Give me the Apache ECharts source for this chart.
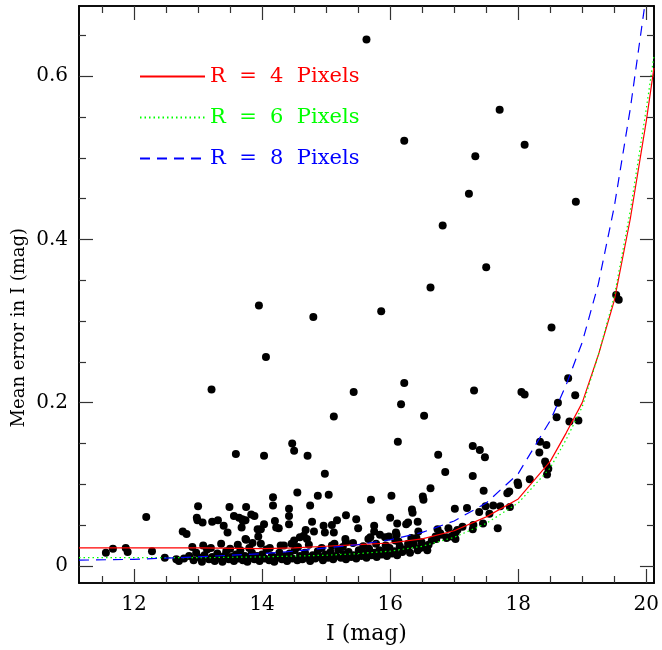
<!DOCTYPE html>
<html>
<head>
<meta charset="utf-8">
<script src="https://cdn.jsdelivr.net/npm/echarts@6/dist/echarts.min.js"></script>
<style>
  html, body { margin: 0; padding: 0; background: #fff; }
  #chart { width: 662px; height: 650px; }
</style>
</head>
<body>
<div id="chart"></div>
<script>
// Axis ranges and ticks
const xRange = [11.14, 20.12]
const yRange = [-0.021, 0.686]
const xMajor = [12, 14, 16, 18, 20]
const xMinor = [11.5, 12.5, 13, 13.5, 14.5, 15, 15.5, 16.5, 17, 17.5, 18.5, 19, 19.5]
const yMajor = [0, 0.2, 0.4, 0.6]
const yMinor = [0.05, 0.1, 0.15, 0.25, 0.3, 0.35, 0.45, 0.5, 0.55, 0.65]

// Model error curves for the three apertures
const curveMag = [11.14, 12, 13, 14, 14.5, 15, 15.5, 16, 16.5, 17, 17.5, 18, 18.5, 18.75, 19, 19.25, 19.5, 19.75, 20, 20.12]
const errR4 = [0.022, 0.022, 0.022, 0.021, 0.022, 0.024, 0.026, 0.028, 0.033, 0.043, 0.060, 0.082, 0.128, 0.163, 0.200, 0.258, 0.325, 0.425, 0.545, 0.610]
const errR6 = [0.010, 0.010, 0.010, 0.011, 0.012, 0.013, 0.015, 0.018, 0.024, 0.035, 0.052, 0.077, 0.120, 0.155, 0.195, 0.258, 0.330, 0.435, 0.560, 0.625]
const errR8 = [0.007, 0.008, 0.011, 0.015, 0.018, 0.022, 0.026, 0.032, 0.041, 0.055, 0.077, 0.113, 0.178, 0.222, 0.274, 0.345, 0.440, 0.560, 0.700, 0.780]

// Stars: I magnitude and mean error
const starMag = [
  15.63, 17.71, 16.22, 18.10, 17.33, 17.23, 18.90, 16.82, 17.50, 16.63,
  13.95, 15.86, 14.80, 18.52, 14.06, 18.78, 16.22, 13.21, 17.31, 15.43,
  18.05, 18.10, 18.89, 18.62, 16.17, 15.12, 16.53, 18.60, 18.94, 18.80,
  19.53, 19.57, 18.34, 18.44, 16.12, 14.47, 17.29, 17.40, 14.50, 18.33,
  13.59, 16.75, 14.03, 14.71, 17.48, 18.42, 18.44, 18.47, 16.86, 14.98,
  18.45, 17.29, 18.18, 17.99, 18.00, 16.63, 17.46, 17.86, 14.55, 17.83,
  15.04, 16.02, 14.87, 16.51, 14.17, 16.52, 15.70, 17.87, 17.72, 17.61,
  17.49, 13.00, 13.75, 13.49, 14.17, 14.75, 17.20, 14.42, 17.01, 16.34,
  16.35, 17.55, 17.39, 14.42, 15.31, 13.83, 13.88, 13.56, 13.64, 12.19,
  16.00, 12.98, 12.99, 13.31, 13.69, 13.74, 15.17, 15.47, 13.70, 14.20,
  13.22, 16.43, 14.78, 13.07, 16.28, 16.11, 17.45, 14.42, 14.03, 16.25,
  17.30, 15.09, 13.40, 14.96, 15.75, 17.13, 13.68, 14.22, 14.26, 15.50,
  16.91, 17.68, 17.29, 13.98, 13.93, 16.74, 14.68, 17.05, 13.46, 12.76,
  14.98, 15.12, 14.81, 15.75, 16.44, 16.09, 17.02, 12.82, 16.10, 16.79,
  15.84, 14.65, 16.96, 15.98, 13.94, 15.92, 14.59, 15.69, 16.88, 13.74,
  14.70, 15.30, 15.66, 16.72, 13.75, 14.50, 16.08, 15.31, 13.85, 14.46,
  14.29, 15.09, 12.91, 11.56, 11.67, 11.87, 11.90, 12.28, 12.48, 12.66,
  16.78, 16.71, 16.65, 16.60, 16.56, 16.49, 16.47, 16.41, 16.33, 16.23,
  16.88, 17.02, 17.00,
  12.70, 12.78, 12.86, 12.93, 12.97, 13.03, 13.06, 13.10, 13.14, 13.17,
  13.22, 13.26, 13.30, 13.34, 13.38, 13.41, 13.44, 13.48, 13.52, 13.56,
  13.59, 13.63, 13.66, 13.70, 13.73, 13.77, 13.81, 13.84, 13.88, 13.92,
  13.96, 14.00, 14.04, 14.07, 14.11, 14.15, 14.19, 14.23, 14.27, 14.31,
  14.35, 14.39, 14.43, 14.47, 14.51, 14.55, 14.59, 14.63, 14.67, 14.71,
  14.75, 14.79, 14.83, 14.87, 14.91, 14.95, 14.99, 15.03, 15.07, 15.11,
  15.15, 15.19, 15.23, 15.27, 15.31, 15.35, 15.39, 15.43, 15.47, 15.51,
  15.55, 15.59, 15.63, 15.67, 15.71, 15.75, 15.79, 15.83, 15.87, 15.91,
  15.95, 15.99, 16.03, 16.07, 16.11, 16.15, 16.19, 16.27, 16.31, 16.37,
  16.43, 16.52, 16.58,
  13.08, 13.20, 13.36, 13.50, 13.62, 13.80, 13.98, 14.12, 14.34, 14.56,
  14.73, 14.93, 15.13, 15.26, 15.42, 15.58, 15.78, 15.93, 16.13, 16.28
]
const starErr = [
  0.645, 0.559, 0.521, 0.516, 0.502, 0.456, 0.446, 0.417, 0.366, 0.341,
  0.319, 0.312, 0.305, 0.292, 0.256, 0.230, 0.224, 0.216, 0.215, 0.213,
  0.213, 0.210, 0.209, 0.200, 0.198, 0.183, 0.184, 0.182, 0.178, 0.177,
  0.332, 0.326, 0.152, 0.148, 0.152, 0.150, 0.147, 0.142, 0.141, 0.139,
  0.137, 0.136, 0.135, 0.135, 0.133, 0.128, 0.124, 0.119, 0.115, 0.113,
  0.112, 0.110, 0.106, 0.102, 0.099, 0.095, 0.092, 0.091, 0.090, 0.089,
  0.087, 0.086, 0.086, 0.085, 0.084, 0.081, 0.081, 0.072, 0.073, 0.074,
  0.073, 0.073, 0.072, 0.072, 0.074, 0.074, 0.071, 0.070, 0.070, 0.069,
  0.065, 0.064, 0.066, 0.061, 0.062, 0.063, 0.061, 0.061, 0.059, 0.060,
  0.059, 0.059, 0.056, 0.056, 0.057, 0.056, 0.056, 0.057, 0.055, 0.055,
  0.054, 0.054, 0.054, 0.053, 0.053, 0.052, 0.052, 0.051, 0.051, 0.051,
  0.050, 0.050, 0.049, 0.049, 0.049, 0.048, 0.047, 0.047, 0.046, 0.046,
  0.046, 0.046, 0.045, 0.045, 0.045, 0.045, 0.044, 0.044, 0.041, 0.042,
  0.041, 0.041, 0.042, 0.042, 0.042, 0.041, 0.041, 0.039, 0.038, 0.038,
  0.038, 0.037, 0.036, 0.036, 0.036, 0.035, 0.035, 0.035, 0.034, 0.033,
  0.033, 0.033, 0.033, 0.033, 0.032, 0.031, 0.031, 0.029, 0.028, 0.027,
  0.025, 0.025, 0.023, 0.016, 0.021, 0.022, 0.017, 0.018, 0.010, 0.008,
  0.040, 0.036, 0.031, 0.026, 0.022, 0.029, 0.022, 0.034, 0.034, 0.020,
  0.035, 0.033, 0.039,
  0.006, 0.009, 0.012, 0.007, 0.016, 0.010, 0.005, 0.013, 0.020, 0.008,
  0.011, 0.006, 0.015, 0.009, 0.005, 0.012, 0.018, 0.008, 0.011, 0.006,
  0.014, 0.009, 0.019, 0.007, 0.012, 0.005, 0.010, 0.016, 0.008, 0.012,
  0.006, 0.014, 0.009, 0.020, 0.007, 0.012, 0.005, 0.010, 0.016, 0.008,
  0.012, 0.006, 0.015, 0.009, 0.019, 0.007, 0.012, 0.008, 0.016, 0.010,
  0.006, 0.013, 0.009, 0.018, 0.011, 0.007, 0.014, 0.010, 0.017, 0.008,
  0.012, 0.020, 0.010, 0.014, 0.008, 0.017, 0.011, 0.013, 0.009, 0.019,
  0.012, 0.015, 0.010, 0.021, 0.013, 0.016, 0.011, 0.019, 0.014, 0.017,
  0.012, 0.022, 0.015, 0.018, 0.013, 0.024, 0.017, 0.021, 0.016, 0.026,
  0.019, 0.024, 0.019,
  0.025, 0.022, 0.027, 0.021, 0.026, 0.022, 0.027, 0.022, 0.025, 0.023,
  0.026, 0.022, 0.027, 0.023, 0.028, 0.024, 0.027, 0.025, 0.030, 0.027
]

const labels = ['R  =  4  Pixels', 'R  =  6  Pixels', 'R  =  8  Pixels']
const colors = ['#ff0000', '#00ff00', '#0000ff']

const font = 'DejaVu Serif'
const zip = (xs, ys) => xs.map((x, i) => [x, ys[i]])

// one axis per tick set, so major and minor ticks can have different lengths
const makeX = (position, ticks, len, withLabels) => ({
  type: 'value', position, min: xRange[0], max: xRange[1],
  axisLine: { show: true, onZero: false, lineStyle: { color: '#000', width: 1.6 } },
  axisTick: { show: true, inside: true, length: len, customValues: ticks, lineStyle: { color: '#333', width: 1.2 } },
  axisLabel: withLabels
    ? { show: true, customValues: ticks, margin: 12, color: '#000', fontFamily: font, fontSize: 20 }
    : { show: false },
  splitLine: { show: false }
})
const makeY = (position, ticks, len, withLabels) => ({
  type: 'value', position, min: yRange[0], max: yRange[1],
  axisLine: { show: true, onZero: false, lineStyle: { color: '#000', width: 1.6 } },
  axisTick: { show: true, inside: true, length: len, customValues: ticks, lineStyle: { color: '#333', width: 1.2 } },
  axisLabel: withLabels
    ? { show: true, customValues: ticks, margin: 11, color: '#000', fontFamily: font, fontSize: 20 }
    : { show: false },
  splitLine: { show: false }
})

const xAxes = [
  { ...makeX('bottom', xMajor, 14, true), name: 'I (mag)', nameLocation: 'middle', nameGap: 40,
    nameTextStyle: { color: '#000', fontFamily: font, fontSize: 22 } },
  makeX('bottom', xMinor, 7, false),
  makeX('top', xMajor, 14, false),
  makeX('top', xMinor, 7, false)
]
const yAxes = [
  makeY('left', yMajor, 14, true),
  makeY('left', yMinor, 7, false),
  makeY('right', yMajor, 14, false),
  makeY('right', yMinor, 7, false)
]

const lineTypes = ['solid', [1.5, 3], [10, 7]]
const curves = [errR4, errR6, errR8]

const chart = echarts.init(document.getElementById('chart'), null, { renderer: 'canvas' })
chart.setOption({
  animation: false,
  backgroundColor: '#fff',
  grid: { left: 79, right: 5, top: 6, bottom: 67, containLabel: false },
  xAxis: xAxes,
  yAxis: yAxes,
  legend: {
    orient: 'vertical',
    left: 134,
    top: 61,
    itemWidth: 65,
    itemHeight: 14,
    itemGap: 20,
    itemStyle: { opacity: 0 },
    data: labels.map((name, i) => ({
      name,
      textStyle: { color: colors[i], fontFamily: font, fontSize: 21, padding: [0, 0, 0, 0] }
    }))
  },
  graphic: [{
    type: 'text',
    left: 10,
    top: 228,
    rotation: Math.PI / 2,
    style: { text: 'Mean error in I (mag)', fill: '#000', font: '18px "DejaVu Serif"' }
  }],
  series: [
    {
      type: 'scatter',
      name: 'stars',
      data: zip(starMag, starErr),
      symbol: 'circle',
      symbolSize: 8,
      itemStyle: { color: '#000', opacity: 1 },
      z: 3
    },
    ...curves.map((errs, i) => ({
      type: 'line',
      name: labels[i],
      data: zip(curveMag, errs),
      symbol: 'none',
      clip: true,
      lineStyle: { color: colors[i], width: 1.2, type: lineTypes[i] },
      itemStyle: { color: colors[i] },
      z: 4
    }))
  ]
})
</script>
</body>
</html>
